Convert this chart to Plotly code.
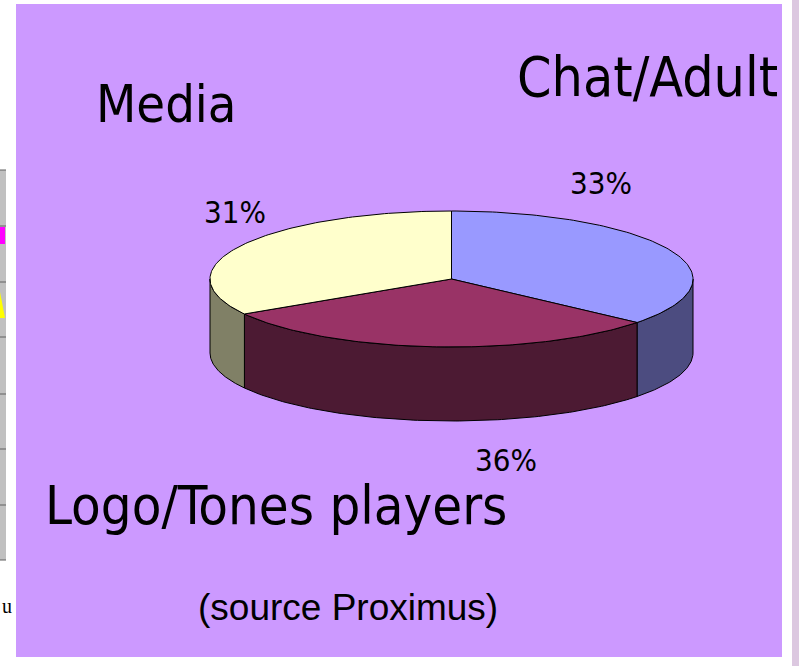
import math
import plotly.graph_objects as go

# ---------------- data ----------------
categories = ["Chat/Adult", "Logo/Tones players", "Media"]
values = [33, 36, 31]
top_colors = ["#9999FF", "#993366", "#FFFFCC"]
side_colors = ["#4C4C80", "#4C1A33", "#808066"]
source_text = "(source Proximus)"

# ---------------- geometry / style ----------------
W, H = 799, 666
CX, CY = 451.5, 279.0       # centre of top ellipse (pixels)
RX, RY = 241.5, 68.0        # radii of top ellipse
DEPTH = 74.0                # thickness of the pie
K = 0.66                    # projection factor for the tilted view
BG = "#CC99FF"
FONT = "DejaVu Sans Condensed, DejaVu Sans, sans-serif"


def proj(phi_deg):
    """true angle (clockwise from 12 o'clock) -> parametric ellipse angle"""
    p = math.radians(phi_deg)
    return math.atan2(K * math.sin(p), math.cos(p))


def pt(theta, dy=0.0):
    return CX + RX * math.sin(theta), CY - RY * math.cos(theta) + dy


def arc(t0, t1, n=120):
    return [t0 + (t1 - t0) * i / n for i in range(n + 1)]


fig = go.Figure()

total = sum(values)
bounds = []
acc = 0.0
for v in values:
    a0 = acc / total * 360
    acc += v
    a1 = acc / total * 360
    t0 = proj(a0)
    t1 = proj(a1)
    if t0 < 0:
        t0 += 2 * math.pi
    while t1 <= t0:
        t1 += 2 * math.pi
    bounds.append((t0, t1))

# side walls (front half: theta between pi/2 and 3pi/2)
for (t0, t1), sc in zip(bounds, side_colors):
    lo = max(t0, math.pi / 2)
    hi = min(t1, 3 * math.pi / 2)
    if hi <= lo:
        continue
    ts = arc(lo, hi)
    xs = [pt(t)[0] for t in ts] + [pt(t, DEPTH)[0] for t in reversed(ts)]
    ys = [pt(t)[1] for t in ts] + [pt(t, DEPTH)[1] for t in reversed(ts)]
    xs.append(xs[0]); ys.append(ys[0])
    fig.add_trace(go.Scatter(x=xs, y=ys, mode="lines", fill="toself",
                             fillcolor=sc, line=dict(color="black", width=1),
                             hoverinfo="skip", showlegend=False))

# top faces
for (t0, t1), tc in zip(bounds, top_colors):
    ts = arc(t0, t1)
    xs = [CX] + [pt(t)[0] for t in ts] + [CX]
    ys = [CY] + [pt(t)[1] for t in ts] + [CY]
    fig.add_trace(go.Scatter(x=xs, y=ys, mode="lines", fill="toself",
                             fillcolor=tc, line=dict(color="black", width=1),
                             hoverinfo="skip", showlegend=False))

# ---------------- text ----------------
cat_pos = [(647, 77, 55), (276, 505, 54), (166, 104, 52)]
pct_pos = [(601, 183), (506, 460), (235, 212)]
for name, v, (x, y, s), (px, py) in zip(categories, values, cat_pos, pct_pos):
    fig.add_annotation(x=x, y=y, text=name, showarrow=False,
                       font=dict(family=FONT, size=s, color="black"),
                       xanchor="center", yanchor="middle", borderpad=0)
    fig.add_annotation(x=px, y=py, text=f"{v}%", showarrow=False,
                       font=dict(family=FONT, size=31, color="black"),
                       xanchor="center", yanchor="middle", borderpad=0)

fig.add_annotation(x=348, y=607, text=source_text, showarrow=False,
                   font=dict(family="Liberation Sans, Arial, sans-serif", size=37, color="black"),
                   xanchor="center", yanchor="middle")

# ---------------- slide background & page edges ----------------
shapes = [
    dict(type="rect", x0=16, x1=782, y0=4, y1=657, fillcolor=BG, line_width=0, layer="below"),
    dict(type="rect", x0=792, x1=799, y0=0, y1=666, fillcolor="#DCC8E0", line_width=0, layer="below"),
    dict(type="rect", x0=0, x1=6, y0=170, y1=560, fillcolor="#C0C0C0", line_width=0, layer="below"),
    dict(type="rect", x0=0, x1=5, y0=227, y1=244, fillcolor="#FF00FF", line_width=0, layer="below"),
    dict(type="path", path="M 0 292 L 5 318 L 0 318 Z", fillcolor="#FFFF00", line_width=0, layer="below"),
]
for yy in [170, 226, 282, 337, 394, 449, 505, 560]:
    shapes.append(dict(type="line", x0=0, x1=6, y0=yy, y1=yy,
                       line=dict(color="#606060", width=1), layer="below"))
fig.add_annotation(x=0, y=606, text="u", showarrow=False, xanchor="left",
                   font=dict(family="Liberation Serif, serif", size=20, color="black"))

fig.update_layout(
    width=W, height=H, margin=dict(l=0, r=0, t=0, b=0),
    paper_bgcolor="white", plot_bgcolor="white",
    shapes=shapes,
    xaxis=dict(range=[0, W], visible=False, fixedrange=True),
    yaxis=dict(range=[H, 0], visible=False, fixedrange=True),
    showlegend=False,
)

fig.write_html("out.html")
